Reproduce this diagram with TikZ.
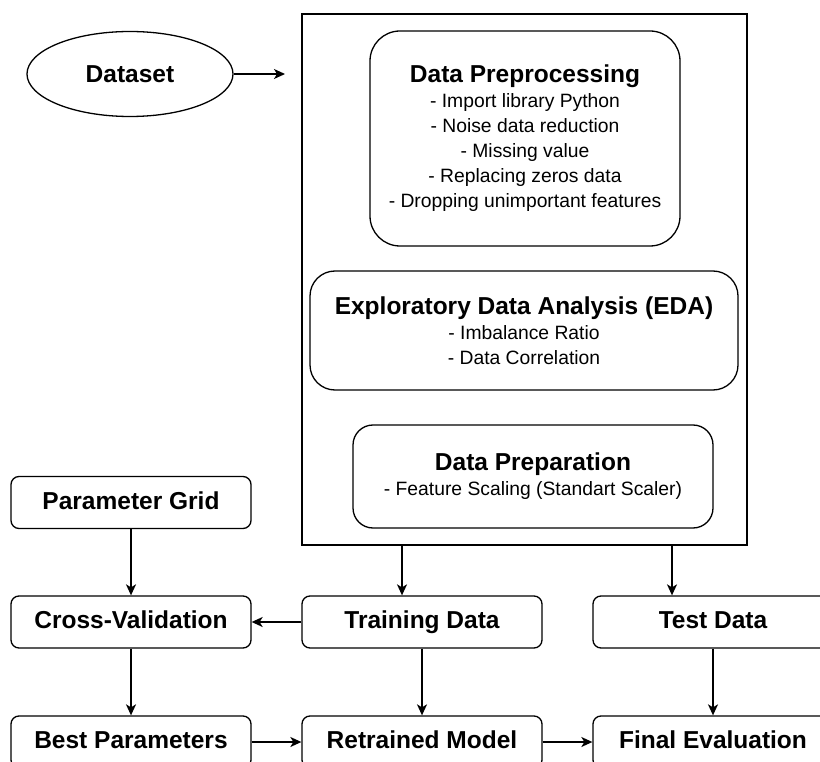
\documentclass[tikz,border=0pt]{standalone}
\usepackage{fontspec}
\setmainfont{Liberation Sans}
\usetikzlibrary{arrows.meta,shapes.geometric,calc}
\tikzset{
  arr/.style={draw=black, line width=1.5pt, -{Stealth[length=11pt,width=10pt,inset=3pt]}},
  smallbox/.style={draw=black, line width=1.3pt, rectangle, rounded corners=8pt, minimum width=240pt, minimum height=52pt, inner sep=0pt, text height=17.5pt, text depth=4.5pt, font=\bfseries\fontsize{24.5}{28}\selectfont},
  bigbox/.style={draw=black, line width=1.3pt, rectangle, inner sep=0pt, align=center, font=\fontsize{19.3}{25}\selectfont},
}
\newcommand{\ttl}[1]{{\bfseries\fontsize{24.5}{26}\selectfont #1}}
\begin{document}
\begin{tikzpicture}[x=1pt,y=-1pt]
\useasboundingbox (0,0) rectangle (820,762);
\clip (0,0) rectangle (820,762);
% outer container
\node[draw=black, line width=1.3pt, rectangle, minimum width=445pt, minimum height=531pt, inner sep=0pt] (outer) at (524.5,279.5) {};
% dataset
\node[draw=black, line width=1.3pt, ellipse, minimum width=206pt, minimum height=85pt, inner sep=0pt, font=\bfseries\fontsize{24.5}{28}\selectfont] (ds) at (130,74) {Dataset};
\coordinate (dsend) at (285,74);
\draw[arr] (ds.east) -- (dsend);
% inner boxes
\node[bigbox, rounded corners=30pt, minimum width=310pt, minimum height=215pt] (pre) at (525,138.5)
  {\ttl{Data Preprocessing}\\- Import library Python\\- Noise data reduction\\- Missing value\\- Replacing zeros data\\- Dropping unimportant features};
\node[bigbox, rounded corners=25pt, minimum width=428pt, minimum height=119pt] (eda) at (524,330.5)
  {\ttl{Exploratory Data Analysis (EDA)}\\- Imbalance Ratio\\- Data Correlation};
\node[bigbox, rounded corners=20pt, minimum width=360pt, minimum height=103pt] (prep) at (533,476.5)
  {\ttl{Data Preparation}\\- Feature Scaling (Standart Scaler)};
% small boxes
\node[smallbox] (pg) at (131,502.5) {Parameter Grid};
\node[smallbox] (cv) at (131,622) {Cross-Validation};
\node[smallbox] (bp) at (131,742) {Best Parameters};
\node[smallbox] (td) at (422,622) {Training Data};
\node[smallbox] (rm) at (422,742) {Retrained Model};
\node[smallbox] (te) at (713,622) {Test Data};
\node[smallbox] (fe) at (713,742) {Final Evaluation};
% connectors
\coordinate (s1) at (402,545);
\coordinate (s2) at (672,545);
\draw[arr] (outer.south -| s1) -- (s1 |- td.north);
\draw[arr] (outer.south -| s2) -- (s2 |- te.north);
\draw[arr] (pg) -- (cv);
\draw[arr] (cv) -- (bp);
\draw[arr] (td) -- (cv);
\draw[arr] (td) -- (rm);
\draw[arr] (te) -- (fe);
\draw[arr] (bp) -- (rm);
\draw[arr] (rm) -- (fe);
\end{tikzpicture}
\end{document}
